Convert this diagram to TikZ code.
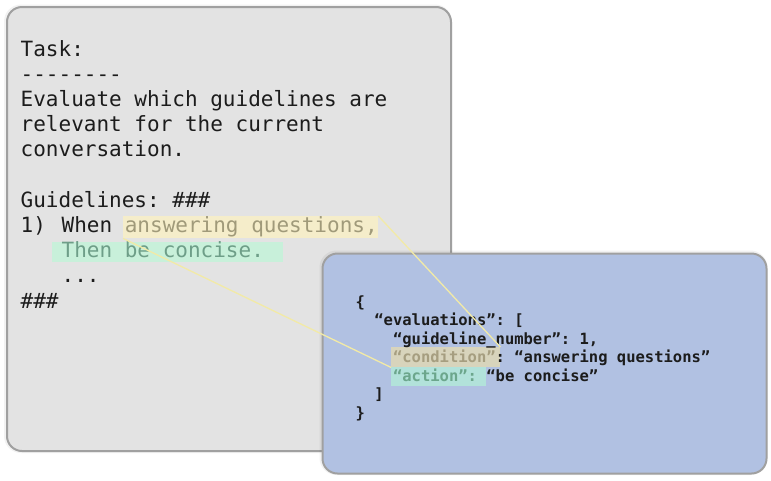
\documentclass[tikz,border=0pt]{standalone}
\usepackage{fontspec}
\setmonofont{DejaVu Sans Mono}
\usetikzlibrary{positioning}
\definecolor{leftfill}{HTML}{E3E3E3}
\definecolor{rightfill}{HTML}{B1C1E2}
\definecolor{boxline}{HTML}{A0A0A0}
\definecolor{maintext}{HTML}{1C1C1C}
\definecolor{yelhl}{HTML}{F5EDCA}
\definecolor{yeltext}{HTML}{A09A7A}
\definecolor{grnhl}{HTML}{C8F0DA}
\definecolor{grntext}{HTML}{6E9E88}
\definecolor{condhl}{HTML}{D8D4BC}
\definecolor{condtext}{HTML}{A69E80}
\definecolor{acthl}{HTML}{B2E2DA}
\definecolor{acttext}{HTML}{6CA68C}
\definecolor{linkcol}{HTML}{F2EAA6}
\tikzset{
  panel/.style={draw=boxline, line width=2pt, rounded corners=15pt},
  halo/.style={fill=black, opacity=0.05, rounded corners=17pt},
  lefttxt/.style={anchor=base west, inner sep=0pt, text=maintext,
    font=\fontsize{21}{25}\selectfont\ttfamily},
  righttxt/.style={anchor=base west, inner sep=0pt, text=maintext,
    font=\fontsize{15.5}{18.5}\selectfont\ttfamily\bfseries},
  hlbox/.style={anchor=north west, inner sep=0pt, draw=none},
  link/.style={draw=linkcol, line width=1.3pt},
}
\begin{document}
\begin{tikzpicture}[x=1pt, y=-1pt]
\useasboundingbox (0,0) rectangle (771,480);
% left panel
\fill[halo] (4,4.5) rectangle (452,453);
\node[panel, fill=leftfill, anchor=north west, minimum width=444pt, minimum height=444pt, inner sep=0pt] (leftpanel) at (6,6) {};
% highlights on the left
\node[hlbox, fill=yelhl, minimum width=255pt, minimum height=22pt] (srccond) at (123,216) {};
\node[hlbox, fill=grnhl, minimum width=231pt, minimum height=20pt] (srcact) at (52,242) {};
% left text
\node[lefttxt] (t1) at (20.5,56) {Task:};
\node[lefttxt] (t2) at (20.5,81.2) {--------};
\node[lefttxt] (t3) at (20.5,106.4) {Evaluate which guidelines are};
\node[lefttxt] (t4) at (20.5,131.6) {relevant for the current};
\node[lefttxt] (t5) at (20.5,156.8) {conversation.};
\node[lefttxt] (t6) at (20.5,207.2) {Guidelines: \#\#\#};
\node[lefttxt] (t7) at (20.5,232.4) {1)\hspace{3pt} When \textcolor{yeltext}{answering questions,}};
\node[lefttxt] (t8) at (20.5,257.6) {\phantom{1) }\hspace{3pt}\textcolor{grntext}{Then be concise.}};
\node[lefttxt] (t9) at (20.5,282.8) {\phantom{1) }\hspace{3pt}...};
\node[lefttxt] (t10) at (20.5,308) {\#\#\#};
% right panel
\fill[halo] (319.5,250.5) rectangle (767.5,475);
\node[panel, fill=rightfill, anchor=north west, minimum width=444pt, minimum height=220pt, inner sep=0pt] (rightpanel) at (321.5,252.5) {};
% highlights on the right
\node[hlbox, fill=condhl, minimum width=109pt, minimum height=20pt] (dstcond) at (391,347) {};
\node[hlbox, fill=acthl, minimum width=95pt, minimum height=19pt] (dstact) at (391,367) {};
% right text
\node[righttxt] (r1) at (355.5,307) {\{};
\node[righttxt] (r2) at (355.5,325.5) {\phantom{xx}“evaluations”: [};
\node[righttxt] (r3) at (355.5,344) {\phantom{xxxx}“guideline\_number”: 1,};
\node[righttxt] (r4) at (355.5,362.5) {\phantom{xxxx}\textcolor{condtext}{“condition”}: “answering questions”};
\node[righttxt] (r5) at (355.5,381) {\phantom{xxxx}\textcolor{acttext}{“action”:} “be concise”};
\node[righttxt] (r6) at (355.5,399.5) {\phantom{xx}]};
\node[righttxt] (r7) at (355.5,418) {\}};
% connectors
\draw[link] (srccond.north east) -- (dstcond.north east);
\draw[link] (srccond.south west) -- (dstcond.south west);
\end{tikzpicture}
\end{document}
